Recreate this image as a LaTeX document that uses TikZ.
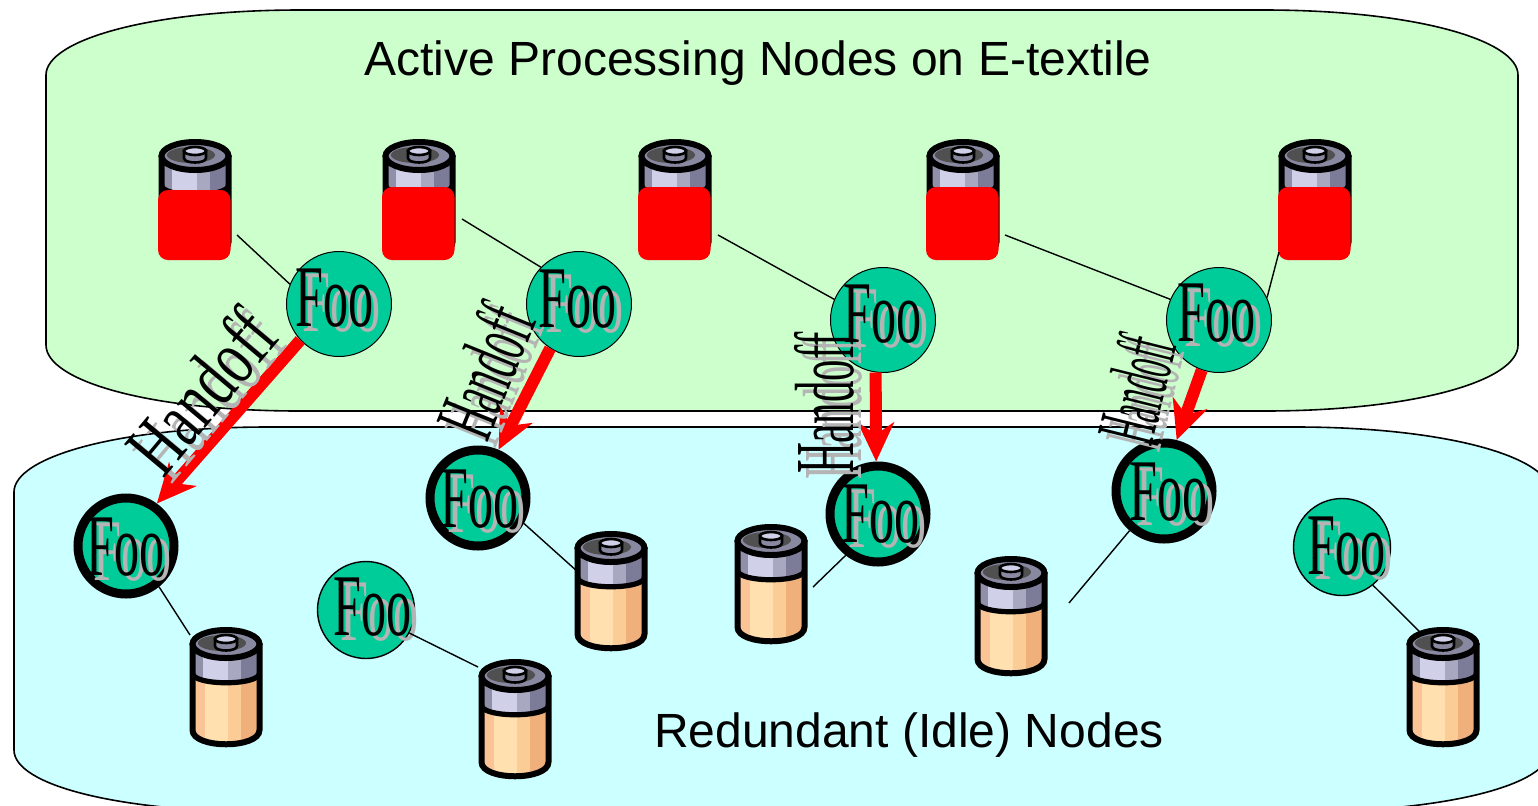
\documentclass[tikz,border=0pt]{standalone}
\usepackage{fontspec}
\setmainfont{Liberation Sans}
\newfontfamily\timesfont{Liberation Serif}
\usetikzlibrary{arrows.meta}

\definecolor{activegreen}{HTML}{CCFFCC}
\definecolor{idlecyan}{HTML}{CCFFFF}
\definecolor{footeal}{HTML}{00CC99}
\definecolor{shadegray}{HTML}{B4B4B4}

\newcommand{\foolabel}[2]{\makebox[0pt]{\kern#1\smash{\raisebox{#2}{\rlap{\kern3.5pt\raisebox{-2.5pt}{\textcolor{shadegray}{\scalebox{0.57}[1]{Foo}}}}\scalebox{0.57}[1]{Foo}}}}}

\tikzset{
  areatext/.style={font=\fontsize{24}{28}\selectfont},
  foonode/.style={circle, draw=black, fill=footeal, inner sep=0pt, line width=0.5pt, minimum size=52.5pt, font=\timesfont\fontsize{44}{44}\selectfont},
  idlenode/.style={foonode, line width=0.7pt, minimum size=48.5pt},
  handoffnode/.style={foonode, line width=4.5pt, minimum size=48pt},
  handofftext/.style={inner sep=0pt, font=\timesfont\fontsize{42}{42}\selectfont},
  handoffshade/.style={handofftext, text=shadegray},
  wire/.style={black, line width=0.7pt},
  handoffarrow/.style={red, line width=6pt, -{Stealth[length=19.5pt,width=18pt,inset=6pt]}},
  redpatch/.style={red, rounded corners=5pt},
  battery/.pic={
    \begin{scope}
      \clip (-33.5,15) -- (-33.5,102) .. controls (-33.5,121) and (33.5,121) .. (33.5,102) -- (33.5,15) -- cycle;
      \fill[fill={rgb,255:red,250;green,196;blue,150}] (-34,0) rectangle (-21,120);
      \fill[fill={rgb,255:red,255;green,224;blue,174}] (-21,0) rectangle (2,120);
      \fill[fill={rgb,255:red,251;green,204;blue,150}] (2,0) rectangle (15,120);
      \fill[fill={rgb,255:red,239;green,176;blue,124}] (15,0) rectangle (34,120);
      \begin{scope}
        \clip (-34,0) -- (-34,45) .. controls (-34,58) and (34,58) .. (34,45) -- (34,0) -- cycle;
        \fill[fill={rgb,255:red,144;green,144;blue,168}] (-34,0) rectangle (-23,60);
        \fill[fill={rgb,255:red,208;green,208;blue,232}] (-23,0) rectangle (2,60);
        \fill[fill={rgb,255:red,168;green,168;blue,192}] (2,0) rectangle (15,60);
        \fill[fill={rgb,255:red,124;green,124;blue,152}] (15,0) rectangle (34,60);
      \end{scope}
    \end{scope}
    \draw[black, line width=2.6pt] (-33.5,45) .. controls (-33.5,58) and (33.5,58) .. (33.5,45);
    \draw[black, line width=3pt] (-33.5,15) -- (-33.5,102) .. controls (-33.5,121) and (33.5,121) .. (33.5,102) -- (33.5,15);
    \draw[black, fill={rgb,255:red,136;green,136;blue,160}, line width=3pt] (0,16) ellipse [x radius=33.5, y radius=14];
    \fill[fill={rgb,255:red,80;green,80;blue,80}] (-4,15) ellipse [x radius=24, y radius=8];
    \draw[black, fill={rgb,255:red,136;green,136;blue,160}, line width=1.3pt] (-11,11) -- (-11,18) .. controls (-11,24) and (11,24) .. (11,18) -- (11,11) -- cycle;
    \draw[black, fill={rgb,255:red,208;green,208;blue,232}, line width=1.3pt] (0,11) ellipse [x radius=11, y radius=4];
  }
}

\begin{document}
\begin{tikzpicture}[x=0.5pt, y=-0.5pt]

\useasboundingbox (0,0) rectangle (1538,805);

\draw[fill=activegreen, line width=0.8pt] (46,75) .. controls (46,40) and (150,10) .. (300,10) -- (1264,10) .. controls (1414,10) and (1518,40) .. (1518,75) -- (1518,345) .. controls (1518,381) and (1414,411) .. (1264,411) -- (300,411) .. controls (150,411) and (46,381) .. (46,345) -- cycle;

\draw[fill=idlecyan, line width=0.8pt] (14,492) .. controls (14,457) and (118,427) .. (268,427) -- (1296,427) .. controls (1446,427) and (1550,457) .. (1550,492) -- (1550,750) .. controls (1550,785) and (1446,812) .. (1296,812) -- (268,812) .. controls (118,812) and (14,785) .. (14,750) -- cycle;

\node[areatext] (activetitle) at (758,63) {Active Processing Nodes on E-textile};

\node[areatext] (idletitle) at (909,735) {Redundant (Idle) Nodes};

\pic at (195,140) {battery};
\pic at (419,140) {battery};
\pic at (675,140) {battery};
\pic at (963,140) {battery};
\pic at (1315,140) {battery};

\fill[redpatch] (158,190) rectangle (230.5,260);
\fill[redpatch] (382,187) rectangle (454.5,260);
\fill[redpatch] (638,187) rectangle (710.5,260);
\fill[redpatch] (926,187) rectangle (998.5,260);
\fill[redpatch] (1278,187) rectangle (1350.5,260);

\pic at (226,628) {battery};
\pic at (611,532) {battery};
\pic at (771,525) {battery};
\pic at (1011,557) {battery};
\pic at (1443,628) {battery};
\pic at (515,660) {battery};

\node[foonode] (fooa) at (339,304) {\foolabel{-4.5pt}{-11.25pt}};
\node[foonode] (foob) at (579,304) {\foolabel{-1pt}{-11.5pt}};
\node[foonode] (fooc) at (883,320) {\foolabel{0pt}{-11pt}};
\node[foonode] (food) at (1219,320) {\foolabel{-2.5pt}{-10.75pt}};

\node[handoffnode] (sparea) at (126,546) {\foolabel{0pt}{-14.5pt}};
\node[handoffnode] (spareb) at (478,498) {\foolabel{2pt}{-14.5pt}};
\node[handoffnode] (sparec) at (878,514) {\foolabel{2.5pt}{-14pt}};
\node[handoffnode] (spared) at (1164,491) {\foolabel{5pt}{-14.5pt}};

\node[idlenode] (idlea) at (366,610) {\foolabel{7pt}{-12.5pt}};
\node[idlenode] (idleb) at (1342,547) {\foolabel{5pt}{-13.5pt}};

\coordinate (cella) at (237,235);
\coordinate (cellb) at (462,219);
\coordinate (cellc) at (718,235);
\coordinate (celld) at (1005,235);
\coordinate (celle) at (1279,252);
\coordinate (cellf) at (190,635);
\coordinate (cellg) at (578,572);
\coordinate (cellh) at (813,587);
\coordinate (celli) at (1069,603);
\coordinate (cellj) at (478,667);
\coordinate (cellk) at (1420,632);

\draw[wire] (cella) -- (fooa.158);
\draw[wire] (cellb) -- (foob.136);
\draw[wire] (cellc) -- (fooc.157);
\draw[wire] (celld) -- (food.157);
\draw[wire] (celle) -- (food.25);
\draw[wire] (cellf) -- (sparea.-51);
\draw[wire] (cellg) -- (spareb.-29);
\draw[wire] (cellh) -- (sparec.232);
\draw[wire] (celli) -- (spared.229);
\draw[wire] (cellj) -- (idlea.-28);
\draw[wire] (cellk) -- (idleb.-51);

\draw[handoffarrow] (fooa.223) -- (sparea.54);
\draw[handoffarrow] (foob.237) -- (spareb.67);
\draw[handoffarrow] (fooc.262) -- (sparec.92);
\draw[handoffarrow] (food.251) -- (spared.76);

\node[handoffshade, rotate=50] (shadea) at (209,397) {\scalebox{0.66}[0.95]{Handoff}};
\node[handofftext, rotate=50] (labela) at (201,391) {\scalebox{0.66}[0.95]{Handoff}};

\node[handoffshade, rotate=68] (shadeb) at (493,377) {\scalebox{0.48}[1]{Handoff}};
\node[handofftext, rotate=68] (labelb) at (485,371) {\scalebox{0.48}[1]{Handoff}};

\node[handoffshade, rotate=90] (shadec) at (832,409) {\scalebox{0.51}[1]{Handoff}};
\node[handofftext, rotate=90] (labelc) at (824,403) {\scalebox{0.51}[1]{Handoff}};

\node[handoffshade, rotate=76] (shaded) at (1144,395) {\scalebox{0.38}[1]{Handoff}};
\node[handofftext, rotate=76] (labeld) at (1136,389) {\scalebox{0.38}[1]{Handoff}};

\end{tikzpicture}
\end{document}
